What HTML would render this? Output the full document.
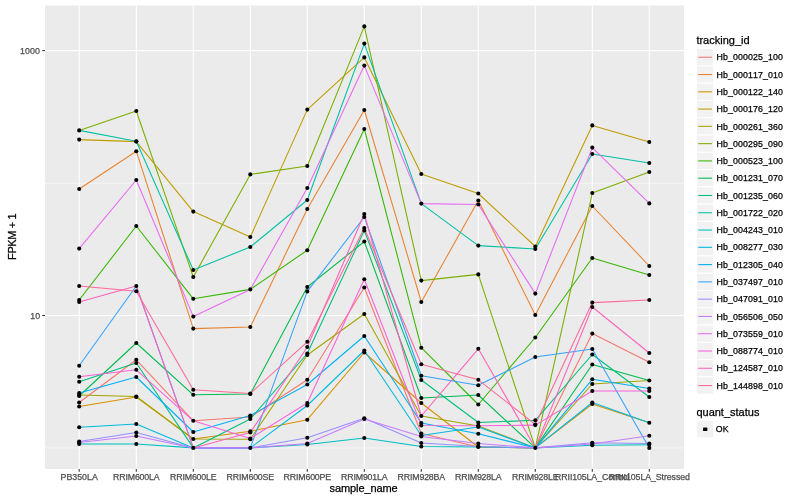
<!DOCTYPE html><html><head><meta charset="utf-8"><title>plot</title><style>html,body{margin:0;padding:0;background:#fff}svg{display:block;opacity:0.999;will-change:transform}text{font-family:"Liberation Sans",sans-serif;font-kerning:none}</style></head><body>
<svg width="800" height="500" viewBox="0 0 800 500">
<rect width="800" height="500" fill="#fff"/>
<rect x="45" y="5.5" width="639" height="463.5" fill="#EBEBEB"/>
<line x1="45" x2="684" y1="183.3" y2="183.3" stroke="#fff" stroke-width="0.53"/>
<line x1="45" x2="684" y1="447.9" y2="447.9" stroke="#fff" stroke-width="0.53"/>
<line x1="45" x2="684" y1="50.65" y2="50.65" stroke="#fff" stroke-width="1.07"/>
<line x1="45" x2="684" y1="315.5" y2="315.5" stroke="#fff" stroke-width="1.07"/>
<line x1="79.2" x2="79.2" y1="5.5" y2="469" stroke="#fff" stroke-width="1.07"/>
<line x1="136.3" x2="136.3" y1="5.5" y2="469" stroke="#fff" stroke-width="1.07"/>
<line x1="193.3" x2="193.3" y1="5.5" y2="469" stroke="#fff" stroke-width="1.07"/>
<line x1="250.3" x2="250.3" y1="5.5" y2="469" stroke="#fff" stroke-width="1.07"/>
<line x1="307.3" x2="307.3" y1="5.5" y2="469" stroke="#fff" stroke-width="1.07"/>
<line x1="364.3" x2="364.3" y1="5.5" y2="469" stroke="#fff" stroke-width="1.07"/>
<line x1="421.3" x2="421.3" y1="5.5" y2="469" stroke="#fff" stroke-width="1.07"/>
<line x1="478.3" x2="478.3" y1="5.5" y2="469" stroke="#fff" stroke-width="1.07"/>
<line x1="535.3" x2="535.3" y1="5.5" y2="469" stroke="#fff" stroke-width="1.07"/>
<line x1="592.3" x2="592.3" y1="5.5" y2="469" stroke="#fff" stroke-width="1.07"/>
<line x1="649.3" x2="649.3" y1="5.5" y2="469" stroke="#fff" stroke-width="1.07"/>
<g fill="none" stroke-width="1.07" stroke-linejoin="round" stroke-linecap="butt">
<polyline points="79.2,402.5 136.3,359.8 193.3,420.8 250.3,417.0 307.3,379.7 364.3,287.5 421.3,433.5 478.3,447.0 535.3,447.9 592.3,333.6 649.3,362.3" stroke="#F8766D"/>
<polyline points="79.2,189.0 136.3,151.2 193.3,328.6 250.3,327.0 307.3,209.0 364.3,110.0 421.3,302.0 478.3,200.5 535.3,315.0 592.3,206.0 649.3,266.0" stroke="#EA8331"/>
<polyline points="79.2,406.5 136.3,397.0 193.3,439.0 250.3,431.2 307.3,419.7 364.3,352.5 421.3,403.0 478.3,447.0 535.3,447.9 592.3,404.0 649.3,422.7" stroke="#D89000"/>
<polyline points="79.2,139.6 136.3,141.6 193.3,211.6 250.3,237.0 307.3,109.6 364.3,57.4 421.3,174.0 478.3,193.5 535.3,246.5 592.3,125.4 649.3,142.0" stroke="#C09B00"/>
<polyline points="79.2,395.0 136.3,396.5 193.3,439.0 250.3,439.3 307.3,355.0 364.3,314.0 421.3,416.0 478.3,426.0 535.3,447.9 592.3,384.0 649.3,380.5" stroke="#A3A500"/>
<polyline points="79.2,130.4 136.3,111.0 193.3,277.0 250.3,174.4 307.3,166.0 364.3,26.4 421.3,280.6 478.3,274.4 535.3,447.9 592.3,193.0 649.3,172.0" stroke="#7CAE00"/>
<polyline points="79.2,300.0 136.3,226.0 193.3,298.8 250.3,289.4 307.3,250.2 364.3,129.0 421.3,347.7 478.3,404.5 535.3,337.5 592.3,258.0 649.3,275.0" stroke="#39B600"/>
<polyline points="79.2,396.0 136.3,343.0 193.3,394.8 250.3,394.0 307.3,287.0 364.3,241.5 421.3,398.0 478.3,395.0 535.3,447.9 592.3,364.5 649.3,380.5" stroke="#00BB4E"/>
<polyline points="79.2,381.8 136.3,363.0 193.3,447.9 250.3,419.0 307.3,353.5 364.3,230.5 421.3,380.0 478.3,422.5 535.3,420.3 592.3,354.5 649.3,397.0" stroke="#00BF7D"/>
<polyline points="79.2,130.4 136.3,141.2 193.3,270.0 250.3,247.0 307.3,200.0 364.3,43.6 421.3,203.6 478.3,245.6 535.3,249.0 592.3,154.0 649.3,163.0" stroke="#00C1A3"/>
<polyline points="79.2,444.0 136.3,444.0 193.3,447.9 250.3,447.9 307.3,444.5 364.3,438.0 421.3,446.5 478.3,447.0 535.3,447.9 592.3,445.3 649.3,444.8" stroke="#00BFC4"/>
<polyline points="79.2,427.3 136.3,424.0 193.3,447.9 250.3,447.9 307.3,405.5 364.3,350.5 421.3,435.5 478.3,427.0 535.3,447.9 592.3,402.5 649.3,422.7" stroke="#00BAE0"/>
<polyline points="79.2,393.0 136.3,377.0 193.3,432.0 250.3,415.5 307.3,384.5 364.3,336.0 421.3,423.0 478.3,433.8 535.3,447.9 592.3,379.3 649.3,388.5" stroke="#00B0F6"/>
<polyline points="79.2,365.8 136.3,286.0 193.3,447.9 250.3,447.9 307.3,291.4 364.3,217.0 421.3,375.7 478.3,385.3 535.3,357.0 592.3,349.0 649.3,447.9" stroke="#35A2FF"/>
<polyline points="79.2,441.5 136.3,432.5 193.3,447.9 250.3,447.9 307.3,437.8 364.3,418.2 421.3,443.0 478.3,446.5 535.3,447.9 592.3,442.8 649.3,443.5" stroke="#9590FF"/>
<polyline points="79.2,442.5 136.3,436.0 193.3,447.9 250.3,447.9 307.3,443.5 364.3,419.0 421.3,436.5 478.3,443.5 535.3,447.9 592.3,444.0 649.3,435.8" stroke="#C77CFF"/>
<polyline points="79.2,248.6 136.3,180.0 193.3,316.6 250.3,289.4 307.3,188.0 364.3,65.6 421.3,203.6 478.3,204.5 535.3,293.6 592.3,147.6 649.3,203.4" stroke="#E76BF3"/>
<polyline points="79.2,376.8 136.3,369.8 193.3,420.8 250.3,438.5 307.3,403.0 364.3,279.3 421.3,425.5 478.3,425.8 535.3,425.1 592.3,391.0 649.3,391.0" stroke="#FA62DB"/>
<polyline points="79.2,302.0 136.3,286.0 193.3,447.9 250.3,432.5 307.3,347.0 364.3,214.0 421.3,416.0 478.3,348.8 535.3,447.9 592.3,307.0 649.3,353.0" stroke="#FF62BC"/>
<polyline points="79.2,286.0 136.3,291.2 193.3,389.8 250.3,393.5 307.3,341.8 364.3,228.0 421.3,364.2 478.3,379.8 535.3,424.5 592.3,302.6 649.3,300.0" stroke="#FF6A98"/>
</g>
<g fill="#000">
<circle cx="79.2" cy="402.5" r="2.05"/>
<circle cx="136.3" cy="359.8" r="2.05"/>
<circle cx="193.3" cy="420.8" r="2.05"/>
<circle cx="250.3" cy="417.0" r="2.05"/>
<circle cx="307.3" cy="379.7" r="2.05"/>
<circle cx="364.3" cy="287.5" r="2.05"/>
<circle cx="421.3" cy="433.5" r="2.05"/>
<circle cx="478.3" cy="447.0" r="2.05"/>
<circle cx="535.3" cy="447.9" r="2.05"/>
<circle cx="592.3" cy="333.6" r="2.05"/>
<circle cx="649.3" cy="362.3" r="2.05"/>
<circle cx="79.2" cy="189.0" r="2.05"/>
<circle cx="136.3" cy="151.2" r="2.05"/>
<circle cx="193.3" cy="328.6" r="2.05"/>
<circle cx="250.3" cy="327.0" r="2.05"/>
<circle cx="307.3" cy="209.0" r="2.05"/>
<circle cx="364.3" cy="110.0" r="2.05"/>
<circle cx="421.3" cy="302.0" r="2.05"/>
<circle cx="478.3" cy="200.5" r="2.05"/>
<circle cx="535.3" cy="315.0" r="2.05"/>
<circle cx="592.3" cy="206.0" r="2.05"/>
<circle cx="649.3" cy="266.0" r="2.05"/>
<circle cx="79.2" cy="406.5" r="2.05"/>
<circle cx="136.3" cy="397.0" r="2.05"/>
<circle cx="193.3" cy="439.0" r="2.05"/>
<circle cx="250.3" cy="431.2" r="2.05"/>
<circle cx="307.3" cy="419.7" r="2.05"/>
<circle cx="364.3" cy="352.5" r="2.05"/>
<circle cx="421.3" cy="403.0" r="2.05"/>
<circle cx="592.3" cy="404.0" r="2.05"/>
<circle cx="649.3" cy="422.7" r="2.05"/>
<circle cx="79.2" cy="139.6" r="2.05"/>
<circle cx="136.3" cy="141.6" r="2.05"/>
<circle cx="193.3" cy="211.6" r="2.05"/>
<circle cx="250.3" cy="237.0" r="2.05"/>
<circle cx="307.3" cy="109.6" r="2.05"/>
<circle cx="364.3" cy="57.4" r="2.05"/>
<circle cx="421.3" cy="174.0" r="2.05"/>
<circle cx="478.3" cy="193.5" r="2.05"/>
<circle cx="535.3" cy="246.5" r="2.05"/>
<circle cx="592.3" cy="125.4" r="2.05"/>
<circle cx="649.3" cy="142.0" r="2.05"/>
<circle cx="79.2" cy="395.0" r="2.05"/>
<circle cx="136.3" cy="396.5" r="2.05"/>
<circle cx="250.3" cy="439.3" r="2.05"/>
<circle cx="307.3" cy="355.0" r="2.05"/>
<circle cx="364.3" cy="314.0" r="2.05"/>
<circle cx="421.3" cy="416.0" r="2.05"/>
<circle cx="478.3" cy="426.0" r="2.05"/>
<circle cx="592.3" cy="384.0" r="2.05"/>
<circle cx="649.3" cy="380.5" r="2.05"/>
<circle cx="79.2" cy="130.4" r="2.05"/>
<circle cx="136.3" cy="111.0" r="2.05"/>
<circle cx="193.3" cy="277.0" r="2.05"/>
<circle cx="250.3" cy="174.4" r="2.05"/>
<circle cx="307.3" cy="166.0" r="2.05"/>
<circle cx="364.3" cy="26.4" r="2.05"/>
<circle cx="421.3" cy="280.6" r="2.05"/>
<circle cx="478.3" cy="274.4" r="2.05"/>
<circle cx="592.3" cy="193.0" r="2.05"/>
<circle cx="649.3" cy="172.0" r="2.05"/>
<circle cx="79.2" cy="300.0" r="2.05"/>
<circle cx="136.3" cy="226.0" r="2.05"/>
<circle cx="193.3" cy="298.8" r="2.05"/>
<circle cx="250.3" cy="289.4" r="2.05"/>
<circle cx="307.3" cy="250.2" r="2.05"/>
<circle cx="364.3" cy="129.0" r="2.05"/>
<circle cx="421.3" cy="347.7" r="2.05"/>
<circle cx="478.3" cy="404.5" r="2.05"/>
<circle cx="535.3" cy="337.5" r="2.05"/>
<circle cx="592.3" cy="258.0" r="2.05"/>
<circle cx="649.3" cy="275.0" r="2.05"/>
<circle cx="79.2" cy="396.0" r="2.05"/>
<circle cx="136.3" cy="343.0" r="2.05"/>
<circle cx="193.3" cy="394.8" r="2.05"/>
<circle cx="250.3" cy="394.0" r="2.05"/>
<circle cx="307.3" cy="287.0" r="2.05"/>
<circle cx="364.3" cy="241.5" r="2.05"/>
<circle cx="421.3" cy="398.0" r="2.05"/>
<circle cx="478.3" cy="395.0" r="2.05"/>
<circle cx="592.3" cy="364.5" r="2.05"/>
<circle cx="79.2" cy="381.8" r="2.05"/>
<circle cx="136.3" cy="363.0" r="2.05"/>
<circle cx="193.3" cy="447.9" r="2.05"/>
<circle cx="250.3" cy="419.0" r="2.05"/>
<circle cx="307.3" cy="353.5" r="2.05"/>
<circle cx="364.3" cy="230.5" r="2.05"/>
<circle cx="421.3" cy="380.0" r="2.05"/>
<circle cx="478.3" cy="422.5" r="2.05"/>
<circle cx="535.3" cy="420.3" r="2.05"/>
<circle cx="592.3" cy="354.5" r="2.05"/>
<circle cx="649.3" cy="397.0" r="2.05"/>
<circle cx="136.3" cy="141.2" r="2.05"/>
<circle cx="193.3" cy="270.0" r="2.05"/>
<circle cx="250.3" cy="247.0" r="2.05"/>
<circle cx="307.3" cy="200.0" r="2.05"/>
<circle cx="364.3" cy="43.6" r="2.05"/>
<circle cx="421.3" cy="203.6" r="2.05"/>
<circle cx="478.3" cy="245.6" r="2.05"/>
<circle cx="535.3" cy="249.0" r="2.05"/>
<circle cx="592.3" cy="154.0" r="2.05"/>
<circle cx="649.3" cy="163.0" r="2.05"/>
<circle cx="79.2" cy="444.0" r="2.05"/>
<circle cx="136.3" cy="444.0" r="2.05"/>
<circle cx="250.3" cy="447.9" r="2.05"/>
<circle cx="307.3" cy="444.5" r="2.05"/>
<circle cx="364.3" cy="438.0" r="2.05"/>
<circle cx="421.3" cy="446.5" r="2.05"/>
<circle cx="592.3" cy="445.3" r="2.05"/>
<circle cx="649.3" cy="444.8" r="2.05"/>
<circle cx="79.2" cy="427.3" r="2.05"/>
<circle cx="136.3" cy="424.0" r="2.05"/>
<circle cx="307.3" cy="405.5" r="2.05"/>
<circle cx="364.3" cy="350.5" r="2.05"/>
<circle cx="421.3" cy="435.5" r="2.05"/>
<circle cx="478.3" cy="427.0" r="2.05"/>
<circle cx="592.3" cy="402.5" r="2.05"/>
<circle cx="79.2" cy="393.0" r="2.05"/>
<circle cx="136.3" cy="377.0" r="2.05"/>
<circle cx="193.3" cy="432.0" r="2.05"/>
<circle cx="250.3" cy="415.5" r="2.05"/>
<circle cx="307.3" cy="384.5" r="2.05"/>
<circle cx="364.3" cy="336.0" r="2.05"/>
<circle cx="421.3" cy="423.0" r="2.05"/>
<circle cx="478.3" cy="433.8" r="2.05"/>
<circle cx="592.3" cy="379.3" r="2.05"/>
<circle cx="649.3" cy="388.5" r="2.05"/>
<circle cx="79.2" cy="365.8" r="2.05"/>
<circle cx="136.3" cy="286.0" r="2.05"/>
<circle cx="307.3" cy="291.4" r="2.05"/>
<circle cx="364.3" cy="217.0" r="2.05"/>
<circle cx="421.3" cy="375.7" r="2.05"/>
<circle cx="478.3" cy="385.3" r="2.05"/>
<circle cx="535.3" cy="357.0" r="2.05"/>
<circle cx="592.3" cy="349.0" r="2.05"/>
<circle cx="649.3" cy="447.9" r="2.05"/>
<circle cx="79.2" cy="441.5" r="2.05"/>
<circle cx="136.3" cy="432.5" r="2.05"/>
<circle cx="307.3" cy="437.8" r="2.05"/>
<circle cx="364.3" cy="418.2" r="2.05"/>
<circle cx="421.3" cy="443.0" r="2.05"/>
<circle cx="478.3" cy="446.5" r="2.05"/>
<circle cx="592.3" cy="442.8" r="2.05"/>
<circle cx="649.3" cy="443.5" r="2.05"/>
<circle cx="79.2" cy="442.5" r="2.05"/>
<circle cx="136.3" cy="436.0" r="2.05"/>
<circle cx="307.3" cy="443.5" r="2.05"/>
<circle cx="364.3" cy="419.0" r="2.05"/>
<circle cx="421.3" cy="436.5" r="2.05"/>
<circle cx="478.3" cy="443.5" r="2.05"/>
<circle cx="592.3" cy="444.0" r="2.05"/>
<circle cx="649.3" cy="435.8" r="2.05"/>
<circle cx="79.2" cy="248.6" r="2.05"/>
<circle cx="136.3" cy="180.0" r="2.05"/>
<circle cx="193.3" cy="316.6" r="2.05"/>
<circle cx="307.3" cy="188.0" r="2.05"/>
<circle cx="364.3" cy="65.6" r="2.05"/>
<circle cx="478.3" cy="204.5" r="2.05"/>
<circle cx="535.3" cy="293.6" r="2.05"/>
<circle cx="592.3" cy="147.6" r="2.05"/>
<circle cx="649.3" cy="203.4" r="2.05"/>
<circle cx="79.2" cy="376.8" r="2.05"/>
<circle cx="136.3" cy="369.8" r="2.05"/>
<circle cx="250.3" cy="438.5" r="2.05"/>
<circle cx="307.3" cy="403.0" r="2.05"/>
<circle cx="364.3" cy="279.3" r="2.05"/>
<circle cx="421.3" cy="425.5" r="2.05"/>
<circle cx="478.3" cy="425.8" r="2.05"/>
<circle cx="535.3" cy="425.1" r="2.05"/>
<circle cx="592.3" cy="391.0" r="2.05"/>
<circle cx="649.3" cy="391.0" r="2.05"/>
<circle cx="79.2" cy="302.0" r="2.05"/>
<circle cx="250.3" cy="432.5" r="2.05"/>
<circle cx="307.3" cy="347.0" r="2.05"/>
<circle cx="364.3" cy="214.0" r="2.05"/>
<circle cx="478.3" cy="348.8" r="2.05"/>
<circle cx="592.3" cy="307.0" r="2.05"/>
<circle cx="649.3" cy="353.0" r="2.05"/>
<circle cx="79.2" cy="286.0" r="2.05"/>
<circle cx="136.3" cy="291.2" r="2.05"/>
<circle cx="193.3" cy="389.8" r="2.05"/>
<circle cx="250.3" cy="393.5" r="2.05"/>
<circle cx="307.3" cy="341.8" r="2.05"/>
<circle cx="364.3" cy="228.0" r="2.05"/>
<circle cx="421.3" cy="364.2" r="2.05"/>
<circle cx="478.3" cy="379.8" r="2.05"/>
<circle cx="535.3" cy="424.5" r="2.05"/>
<circle cx="592.3" cy="302.6" r="2.05"/>
<circle cx="649.3" cy="300.0" r="2.05"/>
</g>
<g stroke="#333" stroke-width="1.07">
<line x1="42.25" x2="45" y1="50.65" y2="50.65"/>
<line x1="42.25" x2="45" y1="315.5" y2="315.5"/>
<line x1="79.2" x2="79.2" y1="469" y2="471.75"/>
<line x1="136.3" x2="136.3" y1="469" y2="471.75"/>
<line x1="193.3" x2="193.3" y1="469" y2="471.75"/>
<line x1="250.3" x2="250.3" y1="469" y2="471.75"/>
<line x1="307.3" x2="307.3" y1="469" y2="471.75"/>
<line x1="364.3" x2="364.3" y1="469" y2="471.75"/>
<line x1="421.3" x2="421.3" y1="469" y2="471.75"/>
<line x1="478.3" x2="478.3" y1="469" y2="471.75"/>
<line x1="535.3" x2="535.3" y1="469" y2="471.75"/>
<line x1="592.3" x2="592.3" y1="469" y2="471.75"/>
<line x1="649.3" x2="649.3" y1="469" y2="471.75"/>
</g>
<g font-size="8.8" fill="#4D4D4D" stroke="#4D4D4D" stroke-width="0.25">
<text x="40.1" y="53.85" text-anchor="end" letter-spacing="0.12">1000</text>
<text x="40.1" y="318.7" text-anchor="end">10</text>
<text x="79.2" y="480.3" text-anchor="middle" letter-spacing="0">PB350LA</text>
<text x="136.3" y="480.3" text-anchor="middle" letter-spacing="-0.17">RRIM600LA</text>
<text x="193.3" y="480.3" text-anchor="middle" letter-spacing="-0.17">RRIM600LE</text>
<text x="250.3" y="480.3" text-anchor="middle" letter-spacing="-0.17">RRIM600SE</text>
<text x="307.3" y="480.3" text-anchor="middle" letter-spacing="-0.17">RRIM600PE</text>
<text x="364.3" y="480.3" text-anchor="middle" letter-spacing="-0.17">RRIM901LA</text>
<text x="421.3" y="480.3" text-anchor="middle" letter-spacing="-0.17">RRIM928BA</text>
<text x="478.3" y="480.3" text-anchor="middle" letter-spacing="-0.17">RRIM928LA</text>
<text x="535.3" y="480.3" text-anchor="middle" letter-spacing="-0.17">RRIM928LE</text>
<text x="592.3" y="480.3" text-anchor="middle" letter-spacing="-0.11">RRII105LA_Control</text>
<text x="649.3" y="480.3" text-anchor="middle" letter-spacing="-0.08">RRII105LA_Stressed</text>
</g>
<g font-size="11" fill="#000" stroke="#000" stroke-width="0.25">
<text x="363.6" y="492" text-anchor="middle" letter-spacing="-0.1">sample_name</text>
<text transform="translate(15.5,236.9) rotate(-90)" text-anchor="middle" letter-spacing="-0.4">FPKM + 1</text>
<text x="696.4" y="44">tracking_id</text>
<text x="696.4" y="415.6">quant_status</text>
</g>
<rect x="696.5" y="48.60" width="17.28" height="17.28" fill="#F2F2F2" stroke="#fff" stroke-width="1.07"/>
<line x1="698.23" x2="712.05" y1="57.24" y2="57.24" stroke="#F8766D" stroke-width="1.07"/>
<rect x="696.5" y="65.88" width="17.28" height="17.28" fill="#F2F2F2" stroke="#fff" stroke-width="1.07"/>
<line x1="698.23" x2="712.05" y1="74.52" y2="74.52" stroke="#EA8331" stroke-width="1.07"/>
<rect x="696.5" y="83.16" width="17.28" height="17.28" fill="#F2F2F2" stroke="#fff" stroke-width="1.07"/>
<line x1="698.23" x2="712.05" y1="91.80" y2="91.80" stroke="#D89000" stroke-width="1.07"/>
<rect x="696.5" y="100.44" width="17.28" height="17.28" fill="#F2F2F2" stroke="#fff" stroke-width="1.07"/>
<line x1="698.23" x2="712.05" y1="109.08" y2="109.08" stroke="#C09B00" stroke-width="1.07"/>
<rect x="696.5" y="117.72" width="17.28" height="17.28" fill="#F2F2F2" stroke="#fff" stroke-width="1.07"/>
<line x1="698.23" x2="712.05" y1="126.36" y2="126.36" stroke="#A3A500" stroke-width="1.07"/>
<rect x="696.5" y="135.00" width="17.28" height="17.28" fill="#F2F2F2" stroke="#fff" stroke-width="1.07"/>
<line x1="698.23" x2="712.05" y1="143.64" y2="143.64" stroke="#7CAE00" stroke-width="1.07"/>
<rect x="696.5" y="152.28" width="17.28" height="17.28" fill="#F2F2F2" stroke="#fff" stroke-width="1.07"/>
<line x1="698.23" x2="712.05" y1="160.92" y2="160.92" stroke="#39B600" stroke-width="1.07"/>
<rect x="696.5" y="169.56" width="17.28" height="17.28" fill="#F2F2F2" stroke="#fff" stroke-width="1.07"/>
<line x1="698.23" x2="712.05" y1="178.20" y2="178.20" stroke="#00BB4E" stroke-width="1.07"/>
<rect x="696.5" y="186.84" width="17.28" height="17.28" fill="#F2F2F2" stroke="#fff" stroke-width="1.07"/>
<line x1="698.23" x2="712.05" y1="195.48" y2="195.48" stroke="#00BF7D" stroke-width="1.07"/>
<rect x="696.5" y="204.12" width="17.28" height="17.28" fill="#F2F2F2" stroke="#fff" stroke-width="1.07"/>
<line x1="698.23" x2="712.05" y1="212.76" y2="212.76" stroke="#00C1A3" stroke-width="1.07"/>
<rect x="696.5" y="221.40" width="17.28" height="17.28" fill="#F2F2F2" stroke="#fff" stroke-width="1.07"/>
<line x1="698.23" x2="712.05" y1="230.04" y2="230.04" stroke="#00BFC4" stroke-width="1.07"/>
<rect x="696.5" y="238.68" width="17.28" height="17.28" fill="#F2F2F2" stroke="#fff" stroke-width="1.07"/>
<line x1="698.23" x2="712.05" y1="247.32" y2="247.32" stroke="#00BAE0" stroke-width="1.07"/>
<rect x="696.5" y="255.96" width="17.28" height="17.28" fill="#F2F2F2" stroke="#fff" stroke-width="1.07"/>
<line x1="698.23" x2="712.05" y1="264.60" y2="264.60" stroke="#00B0F6" stroke-width="1.07"/>
<rect x="696.5" y="273.24" width="17.28" height="17.28" fill="#F2F2F2" stroke="#fff" stroke-width="1.07"/>
<line x1="698.23" x2="712.05" y1="281.88" y2="281.88" stroke="#35A2FF" stroke-width="1.07"/>
<rect x="696.5" y="290.52" width="17.28" height="17.28" fill="#F2F2F2" stroke="#fff" stroke-width="1.07"/>
<line x1="698.23" x2="712.05" y1="299.16" y2="299.16" stroke="#9590FF" stroke-width="1.07"/>
<rect x="696.5" y="307.80" width="17.28" height="17.28" fill="#F2F2F2" stroke="#fff" stroke-width="1.07"/>
<line x1="698.23" x2="712.05" y1="316.44" y2="316.44" stroke="#C77CFF" stroke-width="1.07"/>
<rect x="696.5" y="325.08" width="17.28" height="17.28" fill="#F2F2F2" stroke="#fff" stroke-width="1.07"/>
<line x1="698.23" x2="712.05" y1="333.72" y2="333.72" stroke="#E76BF3" stroke-width="1.07"/>
<rect x="696.5" y="342.36" width="17.28" height="17.28" fill="#F2F2F2" stroke="#fff" stroke-width="1.07"/>
<line x1="698.23" x2="712.05" y1="351.00" y2="351.00" stroke="#FA62DB" stroke-width="1.07"/>
<rect x="696.5" y="359.64" width="17.28" height="17.28" fill="#F2F2F2" stroke="#fff" stroke-width="1.07"/>
<line x1="698.23" x2="712.05" y1="368.28" y2="368.28" stroke="#FF62BC" stroke-width="1.07"/>
<rect x="696.5" y="376.92" width="17.28" height="17.28" fill="#F2F2F2" stroke="#fff" stroke-width="1.07"/>
<line x1="698.23" x2="712.05" y1="385.56" y2="385.56" stroke="#FF6A98" stroke-width="1.07"/>
<g font-size="8.8" fill="#000" stroke="#000" stroke-width="0.25" letter-spacing="0.1">
<text x="716.6" y="60.39">Hb_000025_100</text>
<text x="716.6" y="77.67">Hb_000117_010</text>
<text x="716.6" y="94.95">Hb_000122_140</text>
<text x="716.6" y="112.23">Hb_000176_120</text>
<text x="716.6" y="129.51">Hb_000261_360</text>
<text x="716.6" y="146.79">Hb_000295_090</text>
<text x="716.6" y="164.07">Hb_000523_100</text>
<text x="716.6" y="181.35">Hb_001231_070</text>
<text x="716.6" y="198.63">Hb_001235_060</text>
<text x="716.6" y="215.91">Hb_001722_020</text>
<text x="716.6" y="233.19">Hb_004243_010</text>
<text x="716.6" y="250.47">Hb_008277_030</text>
<text x="716.6" y="267.75">Hb_012305_040</text>
<text x="716.6" y="285.03">Hb_037497_010</text>
<text x="716.6" y="302.31">Hb_047091_010</text>
<text x="716.6" y="319.59">Hb_056506_050</text>
<text x="716.6" y="336.87">Hb_073559_010</text>
<text x="716.6" y="354.15">Hb_088774_010</text>
<text x="716.6" y="371.43">Hb_124587_010</text>
<text x="716.6" y="388.71">Hb_144898_010</text>
<text x="715.8" y="432.2">OK</text>
</g>
<rect x="696.5" y="420.6" width="17.28" height="17.28" fill="#F2F2F2" stroke="#fff" stroke-width="1.07"/>
<rect x="703.0" y="427.5" width="4.4" height="3.6" rx="0.9" fill="#000"/>
</svg></body></html>
